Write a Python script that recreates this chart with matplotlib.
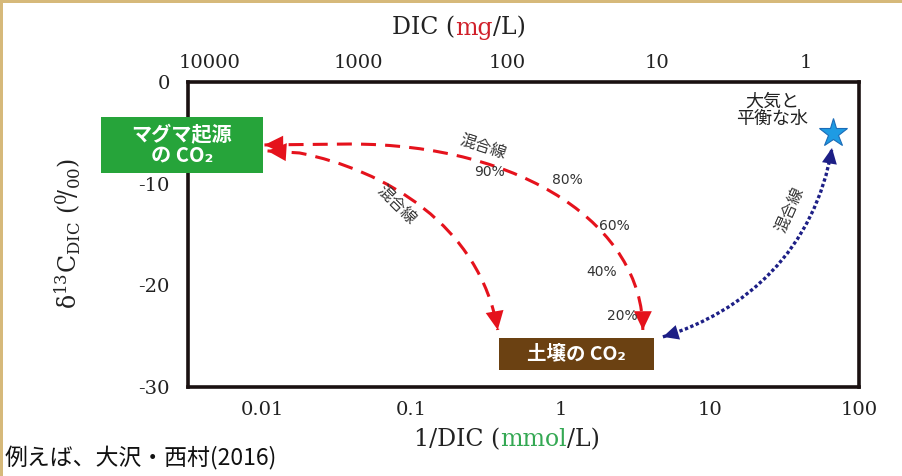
import matplotlib
matplotlib.use('Agg')
import matplotlib.pyplot as plt
from matplotlib.path import Path
from matplotlib.patches import PathPatch, Rectangle

plt.rcParams['axes.unicode_minus'] = False
plt.rcParams['mathtext.fontset'] = 'dejavuserif'

JP = ['Noto Sans CJK JP', 'DejaVu Sans']
SERIF = ['DejaVu Serif']

# ---------------- data ----------------
x_limits = [10 ** -2.5, 100]          # 1/DIC (mmol/L)^-1
y_limits = [-30, 0]                    # delta13C (permil)
bottom_ticks = [0.01, 0.1, 1, 10, 100]
bottom_tick_labels = ['0.01', '0.1', '1', '10', '100']
top_ticks = [10000, 1000, 100, 10, 1]
top_tick_labels = ['10000', '1000', '100', '10', '1']
y_ticks = [0, -10, -20, -30]
y_tick_labels = ['0', '-10', '-20', '-30']
MG_PER_MMOL = 44                       # DIC as CO2

# end members
atm_point = (66.9, -5.0)
magma_box = (0.00083, 0.0100, -8.95, -3.44)   # x0, x1, y0, y1
soil_box = (0.384, 4.21, -28.3, -25.2)

# mixing curves (Bezier control points in data units)
outer_x = [0.0103, 0.0384, 0.573, 3.55, 3.55]
outer_y = [-6.19, -6.10, -6.10, -14.26, -24.39]
inner_x = [0.0108, 0.0177, 0.0659, 0.286, 0.378]
inner_y = [-6.78, -6.98, -8.65, -14.06, -24.39]
blue_x = [4.84, 17.2, 50.7, 65.9]
blue_y = [-25.07, -22.62, -16.52, -6.49]

pct_labels = ['90%', '80%', '60%', '40%', '20%']
pct_x = [0.334, 1.10, 2.30, 1.88, 2.57]
pct_y = [-8.85, -9.64, -14.16, -18.68, -23.0]

RED = '#e5121c'
BLUE = '#1d1f86'
GREEN_BOX = '#26a43a'
BROWN_BOX = '#6b4112'

# ---------------- figure ----------------
W, H = 903, 476
fig = plt.figure(figsize=(W / 100, H / 100), dpi=100)
ax = fig.add_axes([188 / W, 1 - 387 / H, (859 - 188) / W, (387 - 82) / H])
ax.set_xscale('log')
ax.set_xlim(x_limits)
ax.set_ylim(y_limits)
ax.set_xticks(bottom_ticks)
ax.set_xticklabels(bottom_tick_labels)
ax.minorticks_off()
ax.set_yticks(y_ticks)
ax.set_yticklabels(y_tick_labels)
ax.tick_params(axis='x', length=0, pad=10, labelsize=14)
ax.tick_params(axis='y', length=0, pad=13, labelsize=14)
for lab in ax.get_xticklabels() + ax.get_yticklabels():
    lab.set_family(SERIF)
    lab.set_color('#222222')
for sp in ax.spines.values():
    sp.set_linewidth(2.6)
    sp.set_color('#1a1111')

top = ax.twiny()
top.set_xscale('log')
top.set_xlim(MG_PER_MMOL / x_limits[0], MG_PER_MMOL / x_limits[1])
top.set_xticks(top_ticks)
top.set_xticklabels(top_tick_labels)
top.minorticks_off()
top.tick_params(axis='x', length=0, pad=7, labelsize=14)
for lab in top.get_xticklabels():
    lab.set_family(SERIF)
    lab.set_color('#222222')
for sp in top.spines.values():
    sp.set_visible(False)

# ---------------- mixing curves ----------------
def curve(xs, ys, codes, color, ls, lw):
    p = Path(list(zip(xs, ys)), codes)
    patch = PathPatch(p, fill=False, edgecolor=color, lw=lw, linestyle=ls,
                      transform=ax.transData, capstyle='butt')
    ax.add_patch(patch)


def head(tip, tail, color, scale=18):
    ax.annotate('', xy=tip, xytext=tail,
                arrowprops=dict(arrowstyle='-|>,head_length=0.75,head_width=0.36',
                                color=color, lw=0, mutation_scale=scale,
                                shrinkA=0, shrinkB=0))

codes5 = [Path.MOVETO, Path.LINETO, Path.CURVE4, Path.CURVE4, Path.CURVE4]
codes4 = [Path.MOVETO, Path.CURVE4, Path.CURVE4, Path.CURVE4]
red_ls = (0, (4.9, 3.0))
curve(outer_x, outer_y, codes5, RED, red_ls, 2.2)
curve(inner_x, inner_y, codes5, RED, red_ls, 2.2)
curve(blue_x, blue_y, codes4, BLUE, (0, (1.0, 0.75)), 2.4)

head((outer_x[0], outer_y[0]), (outer_x[1], outer_y[1]), RED)
head((outer_x[-1], outer_y[-1]), (outer_x[-2], outer_y[-2]), RED)
head((inner_x[0], inner_y[0]), (inner_x[1], inner_y[1]), RED)
head((inner_x[-1], inner_y[-1]), (inner_x[-2], inner_y[-2]), RED)
head((blue_x[0], blue_y[0]), (blue_x[1], blue_y[1]), BLUE, 15)
head((blue_x[-1], blue_y[-1]), (blue_x[-2], blue_y[-2]), BLUE, 15)

# labels on curves
ax.text(0.30, -6.4, '混合線', family=JP, fontsize=11.5, rotation=-18,
        ha='center', va='center', color='#333333')
ax.text(0.079, -12.1, '混合線', family=JP, fontsize=11.5, rotation=-45,
        ha='center', va='center', color='#333333')
ax.text(34.4, -12.6, '混合線', family=JP, fontsize=11.5, rotation=66,
        ha='center', va='center', color='#333333')
for t, px, py in zip(pct_labels, pct_x, pct_y):
    ax.text(px, py, t, family=['DejaVu Sans'], fontsize=10, ha='center',
            va='center', color='#333333')

# ---------------- end members ----------------
gx0, gx1, gy0, gy1 = magma_box
ax.add_patch(Rectangle((gx0, gy0), gx1 - gx0, gy1 - gy0, facecolor=GREEN_BOX,
                       edgecolor='none', clip_on=False, zorder=5))
ax.text((gx0 * gx1) ** 0.5, (gy0 + gy1) / 2, 'マグマ起源\nの CO₂', family=JP,
        fontsize=14.5, fontweight='bold', color='white', ha='center', va='center',
        linespacing=1.0, zorder=6, clip_on=False)

sx0, sx1, sy0, sy1 = soil_box
ax.add_patch(Rectangle((sx0, sy0), sx1 - sx0, sy1 - sy0, facecolor=BROWN_BOX,
                       edgecolor='none', clip_on=False, zorder=5))
ax.text((sx0 * sx1) ** 0.5, (sy0 + sy1) / 2, '土壌の CO₂', family=JP,
        fontsize=14, fontweight='bold', color='white', ha='center', va='center',
        zorder=6)

ax.plot([atm_point[0]], [atm_point[1]], marker='*', ms=21, color='#1e9be3',
        markeredgecolor='#1a6cb8', markeredgewidth=0.8, zorder=7, clip_on=False)
ax.text(26.1, -2.75, '大気と\n平衡な水', family=JP, fontsize=13,
        ha='center', va='center', linespacing=0.95, color='#222222')

# ---------------- axis titles (multi-coloured) ----------------
def rainbow(parts, cy, size):
    texts = []
    first = ax.annotate(parts[0][0], xy=(0, H - cy), xycoords='figure pixels',
                        color=parts[0][1], fontsize=size, family=SERIF,
                        va='center', ha='left', annotation_clip=False)
    texts.append(first)
    prev = first
    for s, c in parts[1:]:
        t = ax.annotate(s, xy=(1, 0), xycoords=prev, color=c, fontsize=size,
                        family=SERIF, va='bottom', ha='left',
                        annotation_clip=False)
        texts.append(t)
        prev = t
    return texts

top_title = rainbow([('DIC (', '#222222'), ('mg', '#d0202a'), ('/L)', '#222222')],
                    28, 17)
x_title = rainbow([('1/DIC (', '#222222'), ('mmol', '#34a853'), ('/L)', '#222222')],
                  440, 17)

fig.canvas.draw()
r = fig.canvas.get_renderer()
for texts, cx, cy in ((top_title, 459, 28), (x_title, 507, 440)):
    b0 = texts[0].get_window_extent(r)
    b1 = texts[-1].get_window_extent(r)
    width = b1.x1 - b0.x0
    texts[0].set_position((cx - width / 2, H - cy))
    texts[0].xy = (cx - width / 2, H - cy)

fig.text(68 / W, 1 - 233 / H,
         'δ$^{13}$C$_{\\mathrm{DIC}}$ ($^{0}\\!/_{00}$)', family=SERIF,
         rotation=90, ha='center', va='center', fontsize=17, color='#222222')

fig.text(5 / W, 1 - 458 / H, '例えば、大沢・西村(2016)', family=JP, fontsize=16.5,
         ha='left', va='center', color='#111111')

# slide frame edge
fig.patches.append(Rectangle((0, 1 - 3 / H), 1, 3 / H, transform=fig.transFigure,
                             facecolor='#d6b97a', edgecolor='none'))
fig.patches.append(Rectangle((0, 0), 3 / W, 1, transform=fig.transFigure,
                             facecolor='#d6b97a', edgecolor='none'))

fig.savefig('out.png', dpi=100)
